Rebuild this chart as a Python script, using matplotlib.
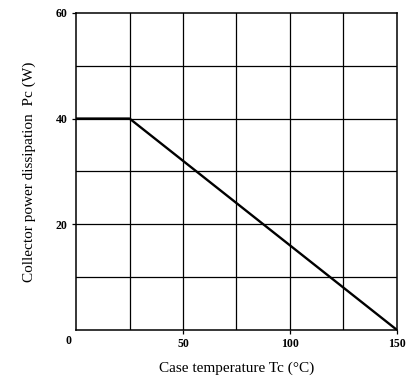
import matplotlib.pyplot as plt

# derating curve: case temperature (C) vs collector power dissipation (W)
temp_c = [0, 25, 150]
power_w = [40, 40, 0]

x_grid = [0, 25, 50, 75, 100, 125, 150]
y_grid = [0, 10, 20, 30, 40, 50, 60]
x_ticks = [50, 100, 150]
y_ticks = [20, 40, 60]

plt.rcParams['font.family'] = ['Liberation Serif', 'DejaVu Serif']

fig = plt.figure(figsize=(4.07, 3.8), dpi=100)
ax = fig.add_axes([0.187, 0.132, 0.788, 0.834])

for xv in x_grid[1:-1]:
    ax.axvline(xv, color='black', linewidth=0.9)
for yv in y_grid[1:-1]:
    ax.axhline(yv, color='black', linewidth=0.9)

ax.plot(temp_c, power_w, color='black', linewidth=1.7)

ax.set_xlim(0, 150)
ax.set_ylim(0, 60)
ax.set_xticks(x_ticks)
ax.set_yticks(y_ticks)
ax.tick_params(length=3, width=0.9, labelsize=8.5, pad=3)
for lab in ax.get_xticklabels() + ax.get_yticklabels():
    lab.set_fontweight('bold')
for s in ax.spines.values():
    s.set_linewidth(1.1)
ax.text(-0.025, -0.035, '0', transform=ax.transAxes, ha='center', va='center',
        fontsize=8.5, fontweight='bold')

ax.set_xlabel('Case temperature Tc (°C)', fontsize=11, labelpad=8)
ax.set_ylabel('Collector power dissipation  Pc (W)', fontsize=11, labelpad=14)

fig.savefig('out.png', dpi=100)
